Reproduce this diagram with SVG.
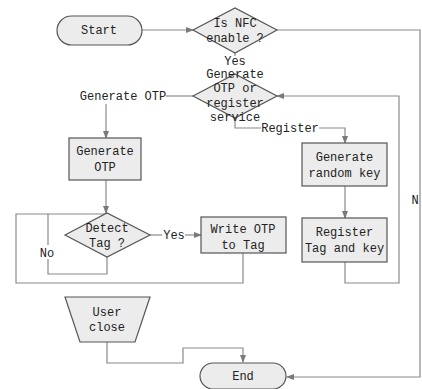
<svg xmlns="http://www.w3.org/2000/svg" width="422" height="389" viewBox="0 0 422 389">
<defs>
<marker id="ah" markerWidth="8" markerHeight="6" refX="7" refY="3" orient="auto" markerUnits="userSpaceOnUse">
<path d="M0,0 L8,3 L0,6 Z" fill="#7a7a7a"/>
</marker>
<style>
.n{fill:#ececec;stroke:#555;stroke-width:1.2}
.c{fill:none;stroke:#8a8a8a;stroke-width:1.2}
.a{marker-end:url(#ah)}
text{font-family:"Liberation Mono","DejaVu Sans Mono",monospace;font-size:12px;fill:#222;text-anchor:middle}
.bg{fill:#fff}
</style>
</defs>
<rect width="422" height="389" fill="#fff"/>
<g id="connectors">
<path class="c a" d="M142,30 H193"/>
<path class="c a" d="M277,30 H420 V377 H287"/>
<path class="c" d="M235,53 V56"/>
<path class="c" d="M193,96 H166"/>
<path class="c a" d="M106,104 V138"/>
<path class="c a" d="M106,180 V213"/>
<path class="c" d="M150,235 H162"/>
<path class="c a" d="M185,235 H201"/>
<path class="c" d="M107,257 V274 H48 V214 H107"/>
<path class="c" d="M243,253 V283 H16 V214 H48"/>
<path class="c" d="M235,118 V128 H261"/>
<path class="c a" d="M319,128 H345 V143"/>
<path class="c a" d="M345,186 V218"/>
<path class="c a" d="M345,262 V283 H399 V96 H277"/>
<path class="c a" d="M107,342 V363 H183 V348 H243 V362"/>
</g>
<g id="start"><rect class="n" x="57" y="16" width="85" height="29" rx="14.5"/><text x="99" y="34">Start</text></g>
<g id="nfc"><polygon class="n" points="193,30 235,8 277,30 235,53"/><text x="235" y="27">Is NFC</text><text x="235" y="42">enable ?</text></g>
<g id="yes1"><text x="235" y="65">Yes</text></g>
<g id="choose"><polygon class="n" points="193,96 235,74 277,96 235,118"/><text x="235" y="78">Generate</text><text x="235" y="92">OTP or</text><text x="235" y="107">register</text><text x="235" y="121">service</text></g>
<g id="lblgen"><text x="123" y="100">Generate OTP</text></g>
<g id="genotp"><rect class="n" x="69" y="138" width="72" height="42"/><text x="105" y="155">Generate</text><text x="105" y="171">OTP</text></g>
<g id="detect"><polygon class="n" points="65,235 107,213 150,235 107,257"/><text x="107" y="232">Detect</text><text x="107" y="247">Tag ?</text></g>
<g id="lblyes"><text x="174" y="239">Yes</text></g>
<g id="lblno"><rect class="bg" x="38" y="245" width="19" height="14"/><text x="47" y="257">No</text></g>
<g id="write"><rect class="n" x="201" y="217" width="85" height="36"/><text x="243" y="233">Write OTP</text><text x="243" y="249">to Tag</text></g>
<g id="lblreg"><text x="290" y="132">Register</text></g>
<g id="randkey"><rect class="n" x="302" y="143" width="85" height="43"/><text x="344.5" y="161">Generate</text><text x="344.5" y="177">random key</text></g>
<g id="regtag"><rect class="n" x="302" y="218" width="85" height="44"/><text x="344.5" y="236">Register</text><text x="344.5" y="252">Tag and key</text></g>
<g id="lbln"><text x="415" y="204">N</text></g>
<g id="userclose"><polygon class="n" points="65,297 150,297 135,342 80,342"/><text x="107" y="316">User</text><text x="107" y="331">close</text></g>
<g id="end"><rect class="n" x="200" y="363" width="86" height="26" rx="13"/><text x="243" y="380">End</text></g>
</svg>
